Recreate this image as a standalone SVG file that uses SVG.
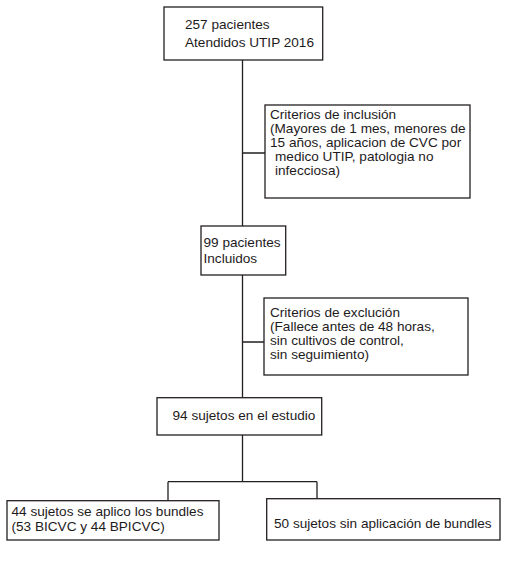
<svg xmlns="http://www.w3.org/2000/svg" width="509" height="563" viewBox="0 0 509 563">
<style>
.box{fill:#fff;stroke:#231f20;stroke-width:1.3}
.ln{fill:none;stroke:#231f20;stroke-width:1.3}
text{font-family:"Liberation Sans",Arial,sans-serif;font-size:13.6px;fill:#1e1b1c}
</style>
<rect width="509" height="563" fill="#fff"/>
<g id="connectors">
<path class="ln" d="M242.5 60 V226 M242.5 275 V397.7 M242.5 153 H265 M242.5 342 H264 M242.5 435 V481.7 M168 481.7 H317 M168 481.7 V500.7 M317 481.7 V498.7"/>
</g>
<g id="n1">
<rect class="box" x="164" y="7" width="158.7" height="53"/>
<text x="185" y="29">257 pacientes</text>
<text x="185" y="47">Atendidos UTIP 2016</text>
</g>
<g id="n2">
<rect class="box" x="265" y="105" width="205" height="93"/>
<text x="270" y="118.5">Criterios de inclusión</text>
<text x="270" y="132.5">(Mayores de 1 mes, menores de</text>
<text x="270" y="146.5">15 años, aplicacion de CVC por</text>
<text x="275" y="160.5">medico UTIP, patologia no</text>
<text x="275" y="174.5">infecciosa)</text>
</g>
<g id="n3">
<rect class="box" x="201" y="226" width="84.7" height="49"/>
<text x="203.5" y="247">99 pacientes</text>
<text x="203.5" y="263">Incluidos</text>
</g>
<g id="n4">
<rect class="box" x="264" y="298" width="204" height="77"/>
<text x="270" y="316.5">Criterios de exclución</text>
<text x="270" y="330.5">(Fallece antes de 48 horas,</text>
<text x="270" y="344.5">sin cultivos de control,</text>
<text x="270" y="358.5">sin seguimiento)</text>
</g>
<g id="n5">
<rect class="box" x="157" y="397.7" width="164.7" height="37.3"/>
<text x="172.5" y="419.5">94 sujetos en el estudio</text>
</g>
<g id="n6">
<rect class="box" x="7" y="500.7" width="212" height="39.3"/>
<text x="11.5" y="515.7">44 sujetos se aplico los bundles</text>
<text x="11.5" y="530.7">(53 BICVC y 44 BPICVC)</text>
</g>
<g id="n7">
<rect class="box" x="266.7" y="498.7" width="233.3" height="41.3"/>
<text x="274" y="527.7">50 sujetos sin aplicación de bundles</text>
</g>
</svg>
